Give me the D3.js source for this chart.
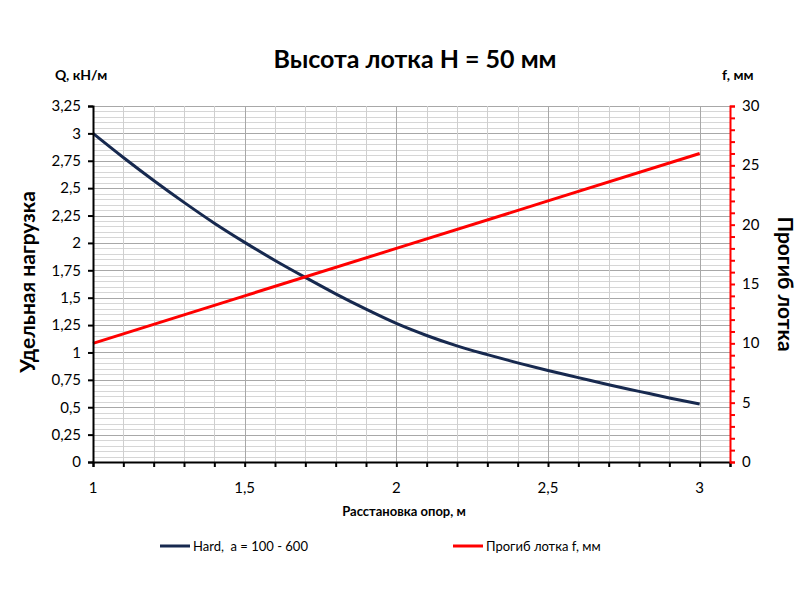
<!DOCTYPE html>
<html>
<head>
<meta charset="utf-8">
<script src="https://cdn.jsdelivr.net/npm/d3@7"></script>
<style>
  body { margin: 0; background: #fff; }
  text { font-family: Lato, "Open Sans", sans-serif; fill: #000; }
</style>
</head>
<body>
<div id="chart"></div>
<script>
// spans (m)
var spans = [1, 1.1, 1.2, 1.3, 1.4, 1.5, 1.6, 1.7, 1.8, 1.9, 2, 2.1, 2.2, 2.3, 2.4, 2.5, 2.6, 2.7, 2.8, 2.9, 3];
// load Q, kN/m (Hard, a = 100 - 600)
var loadQ = [3, 2.78, 2.57, 2.37, 2.18, 2.005, 1.84, 1.685, 1.535, 1.395, 1.265, 1.155, 1.06, 0.98, 0.905, 0.835, 0.77, 0.705, 0.645, 0.585, 0.53];
// deflection f, mm
var deflSpans = [1, 1.5, 2, 2.5, 3];
var deflF = [10, 14, 18, 22, 26];

var xTickLabels = [1, 1.5, 2, 2.5, 3];
var leftTicks = [0, 0.25, 0.5, 0.75, 1, 1.25, 1.5, 1.75, 2, 2.25, 2.5, 2.75, 3, 3.25];
var rightTicks = [0, 5, 10, 15, 20, 25, 30];

var fmt = function(v) { return String(v).replace(".", ","); };

var W = 800, H = 600;
var pLeft = 93, pRight = 730, pTop = 106, pBottom = 462;

var svg = d3.select("#chart").append("svg")
    .attr("width", W).attr("height", H);

var x = d3.scaleLinear().domain([1, 3.1]).range([pLeft, pRight]);
var y = d3.scaleLinear().domain([0, 3.25]).range([pBottom, pTop]);
var y2 = d3.scaleLinear().domain([0, 30]).range([pBottom, pTop]);

// grid
var grid = svg.append("g");
d3.range(0, 3.2501, 0.05).forEach(function(v) {
  var major = Math.abs(v / 0.25 - Math.round(v / 0.25)) < 1e-6;
  grid.append("line")
    .attr("x1", pLeft).attr("x2", pRight)
    .attr("y1", Math.round(y(v)) + 0.5).attr("y2", Math.round(y(v)) + 0.5)
    .attr("stroke", major ? "#a8a8a8" : "#d6d6d6").attr("stroke-width", 1);
});
d3.range(1.1, 3.0501, 0.1).forEach(function(v) {
  var major = Math.abs(v / 0.5 - Math.round(v / 0.5)) < 1e-6;
  grid.append("line")
    .attr("y1", pTop).attr("y2", pBottom)
    .attr("x1", Math.round(x(v)) + 0.5).attr("x2", Math.round(x(v)) + 0.5)
    .attr("stroke", major ? "#a8a8a8" : "#cfcfcf").attr("stroke-width", 1);
});

// curves
var lineQ = d3.line()
  .x(function(d, i) { return x(spans[i]); })
  .y(function(d) { return y(d); })
  .curve(d3.curveMonotoneX);
svg.append("path").datum(loadQ)
  .attr("d", lineQ).attr("fill", "none")
  .attr("stroke", "#17294f").attr("stroke-width", 3);

var lineF = d3.line()
  .x(function(d, i) { return x(deflSpans[i]); })
  .y(function(d) { return y2(d); });
svg.append("path").datum(deflF)
  .attr("d", lineF).attr("fill", "none")
  .attr("stroke", "#ff0000").attr("stroke-width", 3);

// axes
var xAxis = svg.append("g")
  .attr("transform", "translate(0," + pBottom + ")")
  .call(d3.axisBottom(x).tickValues(d3.range(1, 3.1001, 0.1)).tickSize(5).tickFormat(""));
xAxis.select(".domain").attr("stroke", "#000").attr("stroke-width", 2);
xAxis.selectAll(".tick line").attr("stroke", "#000").attr("stroke-width", 2);

svg.append("g").selectAll("text").data(xTickLabels).enter().append("text")
  .attr("x", function(d) { return x(d); }).attr("y", pBottom + 31)
  .attr("text-anchor", "middle").attr("font-size", 15)
  .text(fmt);

var yAxis = svg.append("g")
  .attr("transform", "translate(" + pLeft + ",0)")
  .call(d3.axisLeft(y).tickValues(leftTicks).tickSize(5).tickPadding(7).tickFormat(fmt));
yAxis.select(".domain").attr("stroke", "#000").attr("stroke-width", 2);
yAxis.selectAll(".tick line").attr("stroke", "#000").attr("stroke-width", 2);
yAxis.selectAll(".tick text").attr("font-size", 15).style("font-family", "Lato, sans-serif").attr("fill", "#000");

var yAxis2 = svg.append("g")
  .attr("transform", "translate(" + pRight + ",0)")
  .call(d3.axisRight(y2).tickValues(d3.range(0, 30.01, 1)).tickSize(5).tickFormat(""));
yAxis2.select(".domain").attr("stroke", "#ff0000").attr("stroke-width", 2);
yAxis2.selectAll(".tick line").attr("stroke", "#ff0000").attr("stroke-width", 2);

svg.append("g").selectAll("text").data(rightTicks).enter().append("text")
  .attr("x", pRight + 12).attr("y", function(d) { return y2(d) + 5; })
  .attr("font-size", 15).text(fmt);

// titles
svg.append("text").attr("x", 415).attr("y", 68).attr("text-anchor", "middle")
  .attr("font-size", 25).attr("font-weight", "bold").text("Высота лотка H = 50 мм");
svg.append("text").attr("x", 55).attr("y", 80)
  .attr("font-size", 14).attr("font-weight", "bold").text("Q, кН/м");
svg.append("text").attr("x", 722).attr("y", 80)
  .attr("font-size", 14).attr("font-weight", "bold").text("f, мм");
svg.append("text").attr("transform", "translate(35,282) rotate(-90)")
  .attr("text-anchor", "middle").attr("font-size", 21).attr("font-weight", "bold")
  .text("Удельная нагрузка");
svg.append("text").attr("transform", "translate(778,284) rotate(90)")
  .attr("text-anchor", "middle").attr("font-size", 21).attr("font-weight", "bold")
  .text("Прогиб лотка");
svg.append("text").attr("x", 404).attr("y", 516).attr("text-anchor", "middle")
  .attr("font-size", 13).attr("font-weight", "bold").text("Расстановка опор, м");

// legend
var legend = [
  { label: "Hard,  a = 100 - 600", color: "#17294f", x: 160 },
  { label: "Прогиб лотка f, мм", color: "#ff0000", x: 453 }
];
legend.forEach(function(l) {
  svg.append("line").attr("x1", l.x).attr("x2", l.x + 30)
    .attr("y1", 546).attr("y2", 546)
    .attr("stroke", l.color).attr("stroke-width", 3);
  svg.append("text").attr("x", l.x + 33).attr("y", 551)
    .attr("font-size", 13).text(l.label.replace(/  /g, "\u00a0 "));
});
</script>
</body>
</html>
